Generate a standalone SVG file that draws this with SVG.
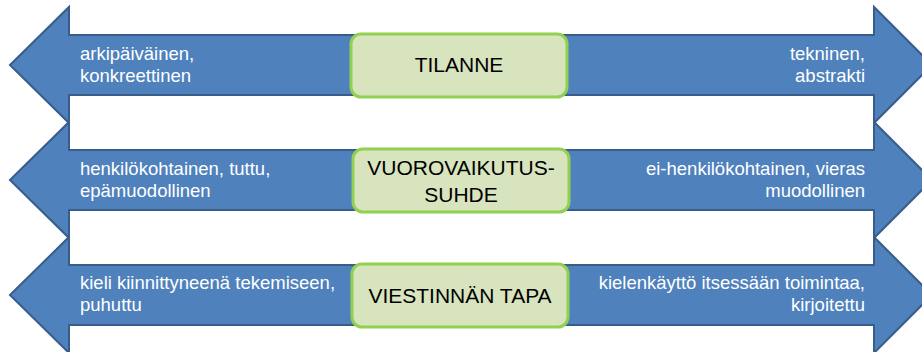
<svg xmlns="http://www.w3.org/2000/svg" width="922" height="352" viewBox="0 0 922 352">
<style>
.arrow{fill:#4F81BD;stroke:#385D8A;stroke-width:2;stroke-linejoin:miter}
.box{fill:#D7E4BD;stroke:#92D050;stroke-width:3}
.lt{font-family:"Liberation Sans",Arial,sans-serif;font-size:18.5px;fill:#FFFFFF}
.rt{font-family:"Liberation Sans",Arial,sans-serif;font-size:18.5px;fill:#FFFFFF;text-anchor:end}
.ct{font-family:"Liberation Sans",Arial,sans-serif;font-size:21px;fill:#000000;text-anchor:middle}
</style>
<g id="row1">
<path class="arrow" d="M10,65 L69,7 L69,35 L874,35 L874,7 L932,65 L874,123 L874,95 L69,95 L69,123 Z"/>
<text class="lt" x="80" y="60">arkipäiväinen,</text>
<text class="lt" x="80" y="82">konkreettinen</text>
<text class="rt" x="865" y="60">tekninen,</text>
<text class="rt" x="865" y="82">abstrakti</text>
<rect class="box" x="351" y="34" width="216" height="63" rx="10"/>
<text class="ct" x="459" y="72">TILANNE</text>
</g>
<g id="row2">
<path class="arrow" d="M10,180 L69,122 L69,150 L874,150 L874,122 L932,180 L874,238 L874,210 L69,210 L69,238 Z"/>
<text class="lt" x="80" y="175">henkilökohtainen, tuttu,</text>
<text class="lt" x="80" y="197">epämuodollinen</text>
<text class="rt" x="865" y="175">ei-henkilökohtainen, vieras</text>
<text class="rt" x="865" y="197">muodollinen</text>
<rect class="box" x="353" y="149" width="216" height="63" rx="10"/>
<text class="ct" x="461" y="175">VUOROVAIKUTUS-</text>
<text class="ct" x="461" y="202">SUHDE</text>
</g>
<g id="row3">
<path class="arrow" d="M10,295 L69,237 L69,265 L874,265 L874,237 L932,295 L874,353 L874,325 L69,325 L69,353 Z"/>
<text class="lt" x="80" y="289">kieli kiinnittyneenä tekemiseen,</text>
<text class="lt" x="80" y="311">puhuttu</text>
<text class="rt" x="865" y="289">kielenkäyttö itsessään toimintaa,</text>
<text class="rt" x="865" y="311">kirjoitettu</text>
<rect class="box" x="352" y="264" width="216" height="63" rx="10"/>
<text class="ct" x="460" y="303">VIESTINNÄN TAPA</text>
</g>
<g id="connectors"/>
</svg>
